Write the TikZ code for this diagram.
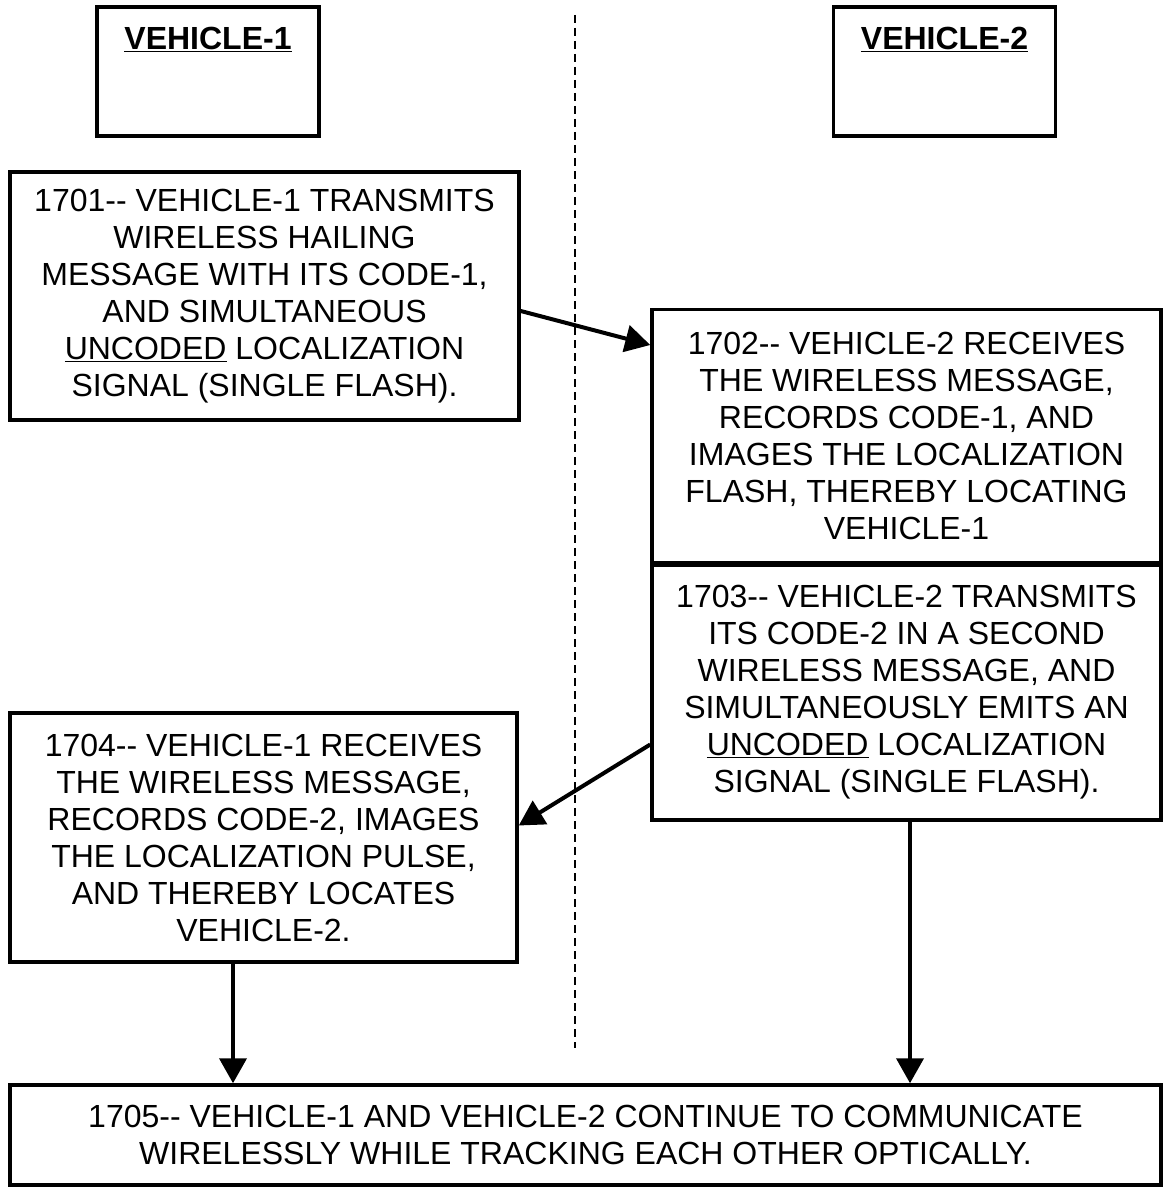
\documentclass[tikz,border=0pt]{standalone}
\usepackage{fontspec}
\setmainfont{Liberation Sans}
\usetikzlibrary{arrows.meta}
\begin{document}
\begin{tikzpicture}[x=1pt,y=-1pt,
  box/.style={draw,line width=3.5pt,rectangle,align=center,inner sep=0pt,
    font=\fontsize{32}{37}\selectfont},
  hdr/.style={draw,line width=3.5pt,rectangle,inner sep=0pt,minimum width=222pt,minimum height=129pt},
  ttl/.style={anchor=north,inner sep=0pt,font=\fontsize{32}{37}\selectfont\bfseries},
  flow/.style={line width=4pt,-{Triangle[length=25pt,width=27pt]}},
  lane/.style={line width=2.5pt,dash pattern=on 8pt off 5pt}]
\useasboundingbox (0,0) rectangle (1164,1188);
% headers
\node[hdr] (v1) at (208,71.5) {};
\node[ttl] (v1t) at (208,27) {\underline{VEHICLE-1}};
\node[hdr] (v2) at (944.5,71.5) {};
\node[ttl] (v2t) at (944.5,27) {\underline{VEHICLE-2}};
% lane divider
\coordinate (lt) at (575,15);
\coordinate (lb) at (575,1048);
\draw[lane] (lt) -- (lb);
% steps
\node[box,minimum width=509pt,minimum height=248pt] (s1) at (264.5,296)
 {1701-{}- VEHICLE-1 TRANSMITS\\WIRELESS HAILING\\MESSAGE WITH ITS CODE-1,\\AND SIMULTANEOUS\\\underline{UNCODED} LOCALIZATION\\SIGNAL (SINGLE FLASH).};
\node[box,minimum width=509pt,minimum height=253pt] (s2) at (906.5,436)
 {1702-{}- VEHICLE-2 RECEIVES\\THE WIRELESS MESSAGE,\\RECORDS CODE-1, AND\\IMAGES THE LOCALIZATION\\FLASH, THEREBY LOCATING\\VEHICLE-1};
\node[box,minimum width=509pt,minimum height=255pt] (s3) at (906.5,692.5)
 {1703-{}- VEHICLE-2 TRANSMITS\\ITS CODE-2 IN A SECOND\\WIRELESS MESSAGE, AND\\SIMULTANEOUSLY EMITS AN\\\underline{UNCODED} LOCALIZATION\\SIGNAL (SINGLE FLASH).};
\node[box,minimum width=507pt,minimum height=249pt] (s4) at (263.5,837.5)
 {1704-{}- VEHICLE-1 RECEIVES\\THE WIRELESS MESSAGE,\\RECORDS CODE-2, IMAGES\\THE LOCALIZATION PULSE,\\AND THEREBY LOCATES\\VEHICLE-2.};
\node[box,minimum width=1151pt,minimum height=100pt] (s5) at (585.5,1135)
 {1705-{}- VEHICLE-1 AND VEHICLE-2 CONTINUE TO COMMUNICATE\\WIRELESSLY WHILE TRACKING EACH OTHER OPTICALLY.};
% connectors
\draw[flow] ([yshift=-15pt]s1.east) -- ([yshift=91pt]s2.west);
\draw[flow] ([yshift=-52pt]s3.west) -- ([yshift=12pt]s4.east);
\draw[flow] ([xshift=-30.5pt]s4.south) -- ([xshift=-30.5pt]s4.south |- s5.north);
\draw[flow] ([xshift=3.5pt]s3.south) -- ([xshift=3.5pt]s3.south |- s5.north);
\end{tikzpicture}
\end{document}
